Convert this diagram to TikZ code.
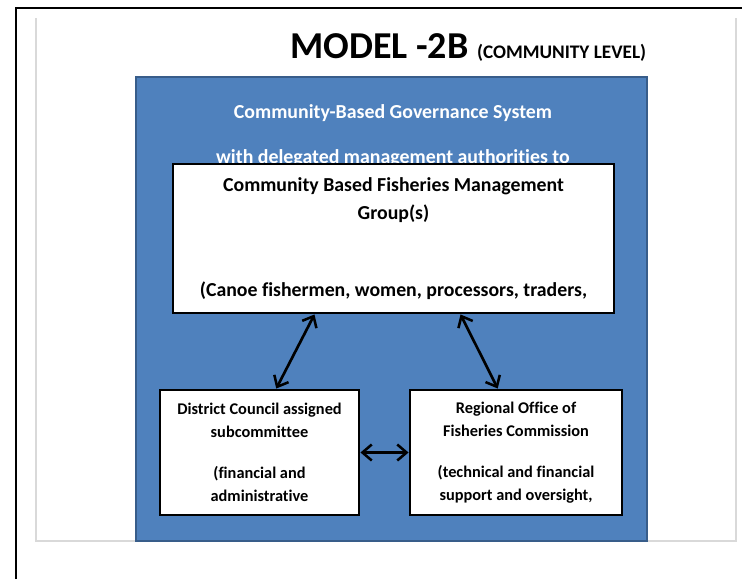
\documentclass[tikz,border=0pt]{standalone}
\usepackage{fontspec}
\setmainfont{Carlito}[Ligatures=NoCommon, RawFeature={-calt;-dlig}]
\usetikzlibrary{arrows.meta,calc}
\definecolor{panelBlue}{HTML}{4F81BD}
\definecolor{panelEdge}{HTML}{385D8A}
\definecolor{pageShadow}{HTML}{D9D9D9}
\newcommand{\pxSize}{0.75pt}
\newcommand{\titleFont}{\fontsize{28.5}{32}\selectfont\bfseries}
\newcommand{\levelFont}{\fontsize{14.4}{16}\selectfont\bfseries}
\newcommand{\panelFont}{\fontsize{14.9}{17}\selectfont\bfseries}
\newcommand{\groupFont}{\fontsize{14.85}{21}\selectfont\bfseries}
\newcommand{\unitFont}{\fontsize{12.25}{17.25}\selectfont\bfseries}

\begin{document}
\begin{tikzpicture}[x=\pxSize, y=-\pxSize,
    >={Straight Barb[length=7pt,width=12pt,line width=1.9pt]},
    unitbox/.style={draw=black, fill=white, line width=2.2pt, inner sep=0pt, align=center},
    link/.style={<->, line width=2pt}]
\useasboundingbox (0,0) rectangle (742,579);
\draw[line width=1.5pt] (16,579) -- (16,8) -- (742,8);
\draw[pageShadow, line width=0.8pt] (36,18) -- (36,541) -- (736,541) -- (736,18);

\node (title) [anchor=base west, inner sep=0pt] at (290,58)
      {\titleFont MODEL -2B \levelFont(COMMUNITY LEVEL)};

\draw[fill=panelBlue, draw=panelEdge, line width=1.5pt] (136,77) rectangle (647,541);
\node (gov) [anchor=base, text=white, inner sep=0pt, font=\panelFont] at (393,118)
      {Community-Based Governance System};
\node (govsub) [anchor=base, text=white, inner sep=0pt, font=\panelFont] at (393,163)
      {with delegated management authorities to};

\node (group) [unitbox, font=\groupFont, minimum width=441*\pxSize, minimum height=149*\pxSize] at (393.5,238.5)
      {Community Based Fisheries Management\\ Group(s)\\[36.75pt]
       (Canoe fishermen, women, processors, traders,};
\node (district) [unitbox, font=\unitFont, minimum width=199*\pxSize, minimum height=125*\pxSize] at (259.5,452.5)
      {District Council assigned\\ subcommittee\\[13.5pt]
       (financial and\\ administrative};
\node (regional) [unitbox, font=\unitFont, minimum width=212*\pxSize, minimum height=125*\pxSize] at (516,452.5)
      {Regional Office of\\ Fisheries Commission\\[13.5pt]
       (technical and financial\\ support and oversight,};

\draw[link] ($(group.south west)!0.322!(group.south east)$) -- ($(district.north west)!0.583!(district.north east)$);
\draw[link] ($(group.south west)!0.651!(group.south east)$) -- ($(regional.north west)!0.415!(regional.north east)$);
\draw[link] (district.east) -- (regional.west);
\end{tikzpicture}
\end{document}
